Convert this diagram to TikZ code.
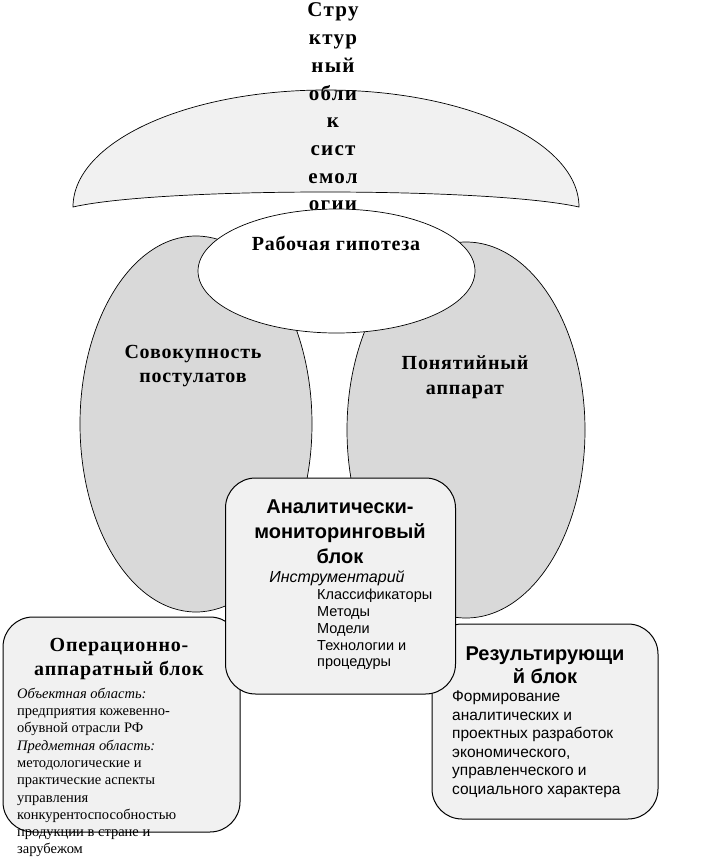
\documentclass[tikz,border=0pt]{standalone}
\usepackage{fontspec}
\setmainfont{Liberation Serif}
\setsansfont{Liberation Sans}
\newfontfamily\headserif[LetterSpace=4]{Liberation Serif}
\newfontfamily\titleserif[LetterSpace=6]{Liberation Serif}
\usetikzlibrary{shapes.geometric}
\definecolor{paleblock}{gray}{0.945}
\definecolor{ovalgray}{gray}{0.85}
\begin{document}
\begin{tikzpicture}[x=1pt,y=-1pt,
  oval/.style={ellipse,draw,line width=0.7pt,inner sep=0pt},
  block/.style={rectangle,draw,line width=1pt,fill=paleblock,rounded corners=30pt,inner sep=0pt},
  txt/.style={inner sep=0pt}]
\useasboundingbox[fill=white] (0,0) rectangle (707,857);
% upper arch
\draw[fill=paleblock,line width=0.7pt] (73,207) .. controls (73,142) and (186,90) .. (326,90)
  .. controls (466,90) and (579,142) .. (579,207)
  .. controls (490,187) and (160,187) .. cycle;
\node[txt,align=center,font=\titleserif\bfseries\fontsize{21}{27.7}\selectfont] (title) at (333,107)
  {Стру\\ктур\\ный\\обли\\к\\сист\\емол\\огии};
% ovals
\node[oval,fill=ovalgray,minimum width=232pt,minimum height=376pt] (postulates) at (196,424) {};
\node[oval,fill=ovalgray,minimum width=238pt,minimum height=376pt] (apparatus) at (466,430) {};
\node[oval,fill=white,minimum width=277pt,minimum height=124pt] (hypothesis) at (336.5,271) {};
\node[txt,font=\headserif\bfseries\fontsize{20}{24}\selectfont] (hyplabel) at (336,243) {Рабочая гипотеза};
\node[txt,align=center,font=\headserif\bfseries\fontsize{20}{24.5}\selectfont] (postlabel) at (193,366)
  {Совокупность\\постулатов};
\node[txt,align=center,font=\headserif\bfseries\fontsize{20}{24.5}\selectfont] (applabel) at (465,377)
  {Понятийный\\аппарат};
% blocks
\node[block,minimum width=237pt,minimum height=215pt] (opblock) at (121.5,724.5) {};
\node[block,minimum width=226pt,minimum height=195pt] (resblock) at (545,721.5) {};
\node[block,minimum width=230pt,minimum height=216pt] (anblock) at (340.5,586) {};
% analytic block
\node[txt,align=center,font=\sffamily\bfseries\fontsize{20}{25}\selectfont] (anhead) at (340,532)
  {Аналитически-\\мониторинговый\\блок};
\node[txt,font=\sffamily\itshape\fontsize{16}{18}\selectfont] (antools) at (337,578) {Инструментарий};
\node[txt,anchor=west,align=left,font=\sffamily\fontsize{14.5}{16.8}\selectfont] (anlist) at (317,629.5)
  {Классификаторы\\Методы\\Модели\\Технологии и\\процедуры};
% operational block
\node[txt,align=center,font=\headserif\bfseries\fontsize{20}{24}\selectfont] (ophead) at (119,659)
  {Операционно-\\аппаратный блок};
\node[txt,anchor=west,align=left,font=\fontsize{14.5}{17.3}\selectfont] (optext) at (17,772.5)
  {\textit{Объектная область:}\\предприятия кожевенно-\\обувной отрасли РФ\\
   \textit{Предметная область:}\\методологические и\\практические аспекты\\управления\\
   конкурентоспособностью\\продукции в стране и\\зарубежом};
% result block
\node[txt,align=center,font=\sffamily\bfseries\fontsize{20}{23}\selectfont] (reshead) at (545,665)
  {Результирующи\\й блок};
\node[txt,anchor=west,align=left,font=\sffamily\fontsize{15.5}{18.5}\selectfont] (restext) at (452,744)
  {Формирование\\аналитических и\\проектных разработок\\экономического,\\управленческого и\\социального характера};
\end{tikzpicture}
\end{document}
